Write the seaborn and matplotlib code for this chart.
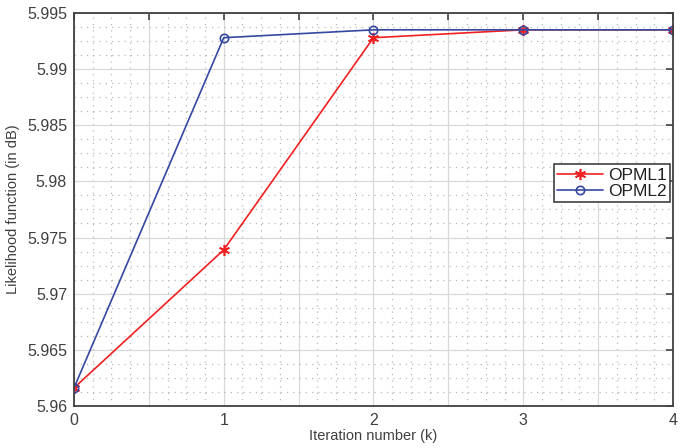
import matplotlib
matplotlib.use("Agg")
import matplotlib.pyplot as plt
import pandas as pd
import seaborn as sns
from matplotlib.ticker import MultipleLocator, FuncFormatter

# values
iterations = [0, 1, 2, 3, 4]
opml1 = [5.9616, 5.9739, 5.9928, 5.9935, 5.9935]
opml2 = [5.9616, 5.9928, 5.9935, 5.9935, 5.9935]
series_names = ["OPML1", "OPML2"]

df = pd.DataFrame({
    "k": iterations * 2,
    "value": opml1 + opml2,
    "method": [series_names[0]] * len(iterations) + [series_names[1]] * len(iterations),
})

sns.set_theme(style="white")
plt.rcParams["font.family"] = ["Liberation Sans", "DejaVu Sans"]
text_color = "#404040"

fig = plt.figure(figsize=(7, 4.48), dpi=100)
ax = fig.add_axes([0.1057, 0.094, 0.8557, 0.877])

colors = {"OPML1": "#f02020", "OPML2": "#3548a0"}
markers = {"OPML1": (6, 2, 0), "OPML2": "o"}  # asterisk and open circle
for name in series_names:
    sub = df[df["method"] == name]
    sns.lineplot(data=sub, x="k", y="value", ax=ax, color=colors[name],
                 marker=markers[name], markersize=8 if name == "OPML1" else 6,
                 markerfacecolor="none" if name == "OPML2" else colors[name],
                 markeredgecolor=colors[name], markeredgewidth=1.2,
                 linewidth=1.2, label=name)

ax.set_xlim(0, 4)
ax.set_ylim(5.96, 5.995)
ax.xaxis.set_major_locator(MultipleLocator(0.5))
ax.xaxis.set_minor_locator(MultipleLocator(0.125))
ax.yaxis.set_major_locator(MultipleLocator(0.005))
ax.yaxis.set_minor_locator(MultipleLocator(0.00125))
ax.xaxis.set_major_formatter(FuncFormatter(lambda v, p: f"{int(v)}" if abs(v - round(v)) < 1e-9 else ""))
ax.yaxis.set_major_formatter(FuncFormatter(lambda v, p: f"{v:.3f}".rstrip("0").rstrip(".")))

ax.grid(which="major", color="#d8d8d8", linewidth=0.9, linestyle="-")
ax.grid(which="minor", color="#b8b8b8", linewidth=0.9, linestyle=(0, (1, 4)))
ax.set_axisbelow(True)

ax.tick_params(which="major", direction="in", length=5, width=1.2, color=text_color,
               labelsize=11.5, labelcolor=text_color, top=True, right=True, pad=5)
ax.tick_params(which="minor", length=0)
for s in ax.spines.values():
    s.set_color(text_color)
    s.set_linewidth(1.3)

ax.set_xlabel("Iteration number (k)", fontsize=10.5, color=text_color, labelpad=1)
ax.set_ylabel("Likelihood function (in dB)", fontsize=10.5, color=text_color, labelpad=5)

leg = ax.legend(loc="upper right", bbox_to_anchor=(0.995, 0.615), fontsize=12.5,
                frameon=True, fancybox=False, framealpha=1, edgecolor=text_color,
                borderpad=0.2, handlelength=2.6, handletextpad=0.3, labelspacing=0.05,
                borderaxespad=0)
leg.get_frame().set_linewidth(1.2)
for t in leg.get_texts():
    t.set_color("#202020")

fig.savefig("out.png", dpi=100)
